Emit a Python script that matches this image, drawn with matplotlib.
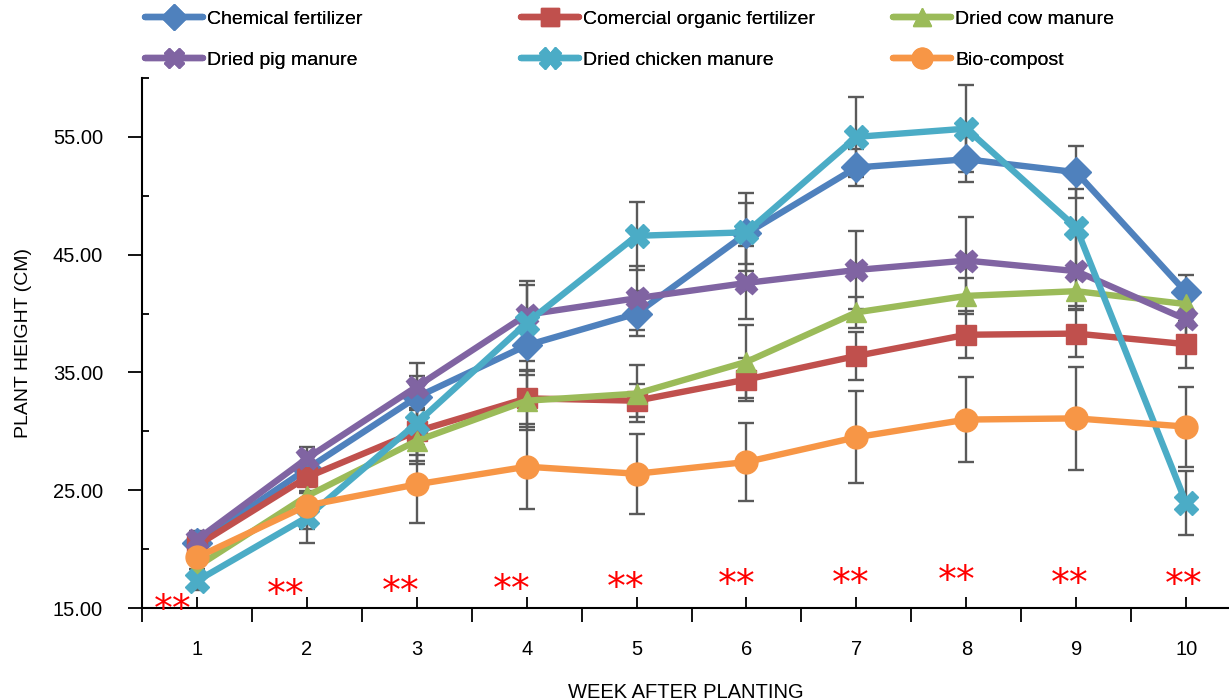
import matplotlib
matplotlib.use("Agg")
import matplotlib.pyplot as plt
from matplotlib.ticker import FixedLocator, FormatStrFormatter
from matplotlib.lines import Line2D
from matplotlib.transforms import offset_copy

plt.rcParams['font.family'] = ['Liberation Sans', 'DejaVu Sans']

weeks = [1, 2, 3, 4, 5, 6, 7, 8, 9, 10]
series_names = ["Chemical fertilizer", "Comercial organic fertilizer", "Dried cow manure",
                "Dried pig manure", "Dried chicken manure", "Bio-compost"]

chemical = [20.5, 26.8, 32.9, 37.3, 40.0, 46.8, 52.4, 53.1, 52.0, 41.8]
commercial = [20.3, 26.1, 30.0, 32.8, 32.6, 34.4, 36.4, 38.2, 38.3, 37.4]
cow = [18.5, 24.5, 29.2, 32.6, 33.2, 35.9, 40.1, 41.5, 41.9, 40.8]
pig = [20.8, 27.7, 33.8, 39.9, 41.3, 42.6, 43.7, 44.5, 43.6, 39.5]
chicken = [17.3, 22.7, 30.7, 39.2, 46.6, 46.9, 55.0, 55.7, 47.3, 23.9]
biocompost = [19.3, 23.7, 25.5, 27.0, 26.4, 27.4, 29.5, 31.0, 31.1, 30.4]

err_chemical = [0.9, 1.2, 1.8, 2.5, 1.9, 2.6, 1.6, 1.9, 2.2, 1.5]
err_commercial = [0.9, 1.3, 2.0, 2.4, 1.4, 1.8, 2.0, 2.0, 2.0, 2.0]
err_cow = [0.8, 1.5, 2.0, 2.5, 2.4, 3.1, 1.3, 1.5, 1.5, 1.5]
err_pig = [0.7, 1.0, 2.0, 2.9, 2.7, 3.1, 3.3, 3.7, 3.0, 2.5]
err_chicken = [0.8, 2.2, 3.2, 3.2, 2.9, 3.3, 3.4, 3.7, 3.3, 2.7]
err_bio = [1.0, 2.0, 3.3, 3.6, 3.4, 3.3, 3.9, 3.6, 4.4, 3.4]

star_x = [0.78, 1.81, 2.85, 3.86, 4.90, 5.91, 6.95, 7.91, 8.94, 9.98]
star_y = [15.5, 16.8, 17.0, 17.2, 17.4, 17.6, 17.7, 18.0, 17.7, 17.6]
star_text = "**"

values = [chemical, commercial, cow, pig, chicken, biocompost]
errors = [err_chemical, err_commercial, err_cow, err_pig, err_chicken, err_bio]
colors = ["#4F81BD", "#C0504D", "#9BBB59", "#8064A2", "#4BACC6", "#F79646"]
markers = ["D", "s", "^", "X", "X", "o"]
msizes = [15, 15, 15, 16, 17, 16.5]

fig = plt.figure(figsize=(12.29, 7.0), dpi=100)
ax = fig.add_axes([0.1155, 0.1314, 0.8845, 0.7572])

handles = []
for k, (vals, errs, c, m, ms, name) in enumerate(zip(values, errors, colors, markers, msizes, series_names)):
    ax.errorbar(weeks, vals, yerr=errs, fmt='none', ecolor="#5A5A5A", elinewidth=1.7,
                capsize=6, capthick=1.7, zorder=1.5)
    ax.plot(weeks, vals, color=c, lw=4.6, marker=m, ms=ms, mec=c, mfc=c, zorder=2 + 0.01 * k,
            solid_joinstyle='round')
    handles.append(Line2D([], [], color=c, lw=4.6, marker=m, ms=ms * 0.9, mec=c, mfc=c,
                          solid_capstyle='round'))

star_fs = 27
star_tr = offset_copy(ax.transData, fig=fig, x=0, y=-0.24 * star_fs, units='points')
for sx, sy in zip(star_x, star_y):
    ax.text(sx, sy, star_text, color="#FF0000", fontsize=star_fs, ha='center', va='center',
            family=['DejaVu Sans'], zorder=5, transform=star_tr)

ax.set_xlim(0.5, 10.39)
ax.set_ylim(15, 60)

ax.xaxis.set_major_locator(FixedLocator(weeks))
ax.xaxis.set_minor_locator(FixedLocator([w - 0.5 for w in weeks] + [10.5]))
ax.tick_params(axis='x', which='major', direction='in', length=8, width=1.3,
               labelsize=14.5, pad=23, colors='black')
ax.tick_params(axis='x', which='minor', direction='out', length=10, width=1.3)

ax.yaxis.set_major_locator(FixedLocator([15, 25, 35, 45, 55]))
ax.yaxis.set_minor_locator(FixedLocator([20, 30, 40, 50, 60]))
ax.yaxis.set_major_formatter(FormatStrFormatter('%.2f'))
ax.tick_params(axis='y', which='major', direction='out', length=10, width=1.3,
               labelsize=14.5, pad=18)
ax.tick_params(axis='y', which='minor', direction='in', length=5, width=1.3)

for s in ['top', 'right']:
    ax.spines[s].set_visible(False)
ax.spines['left'].set_linewidth(1.5)
ax.spines['bottom'].set_linewidth(1.5)

ax.set_xlabel("WEEK AFTER PLANTING", fontsize=14.5, labelpad=17)
ax.set_ylabel("PLANT HEIGHT (CM)", fontsize=14, labelpad=15)

# three legend columns, row-major order like the reference
col_groups = [[0, 3], [1, 4], [2, 5]]
col_x = [145, 521, 893]
for grp, px in zip(col_groups, col_x):
    lg = fig.legend(handles=[handles[i] for i in grp], labels=[series_names[i] for i in grp],
                    loc='upper left', bbox_to_anchor=(px / 1229, 0.985), frameon=False,
                    fontsize=14, handlelength=3.0, handletextpad=0.2, borderpad=0,
                    borderaxespad=0, labelspacing=1.2)
    fig.add_artist(lg)

fig.savefig("out.png", dpi=100)
